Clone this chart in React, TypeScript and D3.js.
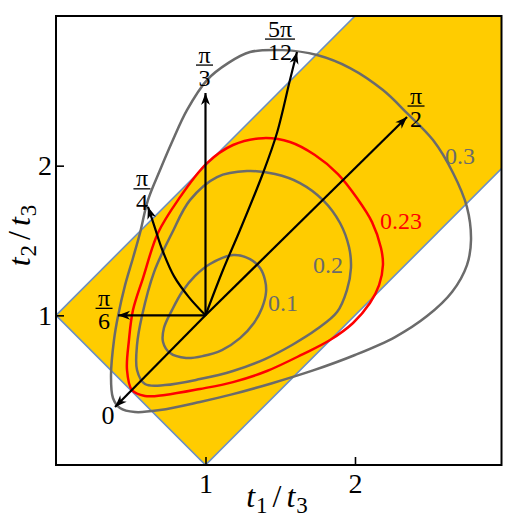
import React, { useEffect, useRef } from "react";
import * as d3 from "d3";

// chart data (t1/t3, t2/t3)
const xTicks = [1, 2];
const yTicks = [1, 2];

// triangle-inequality band |t1 - t2| < t3, t1 + t2 > t3
const bandArea: [number, number][] = [[0, 1], [1, 0], [3, 2], [3, 3], [2, 3]];
const bandEdges: [number, number][][] = [
    [[0, 1], [2, 3]],
    [[0, 1], [1, 0]],
    [[1, 0], [3, 2]],
];

const contour01: [number, number][] = [
    [1.184, 1.403], [1.298, 1.376], [1.365, 1.316], [1.398, 1.236], [1.405, 1.156],
    [1.378, 1.049], [1.324, 0.949], [1.231, 0.848], [1.11, 0.768], [0.983, 0.728],
    [0.87, 0.715], [0.763, 0.748], [0.716, 0.822], [0.722, 0.915], [0.776, 1.035],
    [0.843, 1.156], [0.93, 1.263], [1.03, 1.343],
];

const contour02: [number, number][] = [
    [0.896, 1.77], [1.077, 1.924], [1.278, 1.964], [1.465, 1.944], [1.632, 1.884],
    [1.786, 1.77], [1.9, 1.617], [1.96, 1.456], [1.973, 1.316], [1.946, 1.169],
    [1.88, 1.022], [1.746, 0.908], [1.579, 0.802], [1.398, 0.708], [1.184, 0.628],
    [0.963, 0.574], [0.729, 0.534], [0.595, 0.541], [0.542, 0.635], [0.542, 0.802],
    [0.575, 0.995], [0.656, 1.289], [0.776, 1.55],
];

const contour023: [number, number][] = [
    [0.816, 1.77], [1.01, 2.017], [1.184, 2.138], [1.385, 2.184], [1.565, 2.158],
    [1.732, 2.071], [1.886, 1.944], [2.013, 1.784], [2.114, 1.623], [2.174, 1.45],
    [2.187, 1.336], [2.161, 1.202], [2.1, 1.082], [1.987, 0.949], [1.833, 0.835],
    [1.652, 0.741], [1.411, 0.628], [1.184, 0.554], [0.963, 0.508], [0.729, 0.468],
    [0.595, 0.461], [0.508, 0.501], [0.475, 0.635], [0.488, 0.835], [0.515, 1.035],
    [0.582, 1.249], [0.682, 1.55],
];

const contour03: [number, number][] = [
    [1.151, 2.685], [1.298, 2.759], [1.518, 2.772], [1.746, 2.739], [1.967, 2.652],
    [2.187, 2.505], [2.348, 2.351], [2.522, 2.171], [2.656, 1.951], [2.749, 1.723],
    [2.776, 1.503], [2.749, 1.336], [2.649, 1.156], [2.482, 0.995], [2.268, 0.855],
    [2.0, 0.735], [1.72, 0.632], [1.44, 0.545], [1.17, 0.47], [0.963, 0.421],
    [0.696, 0.367], [0.528, 0.354], [0.428, 0.381], [0.381, 0.448], [0.368, 0.601],
    [0.388, 0.835], [0.415, 0.995], [0.462, 1.202], [0.515, 1.383], [0.562, 1.55],
    [0.615, 1.77], [0.696, 1.971], [0.776, 2.158], [0.876, 2.371], [1.01, 2.572],
];

const contourLevels = ["0.1", "0.2", "0.23", "0.3"];
const contourPoints = [contour01, contour02, contour023, contour03];
const contourLabelAt: [number, number][] = [[1.518, 1.082], [1.819, 1.336], [2.308, 1.63], [2.702, 2.064]];

// direction paths from the centre (1, 1), one per angle
const arrow0: [number, number][] = [[1, 1], [0.395, 0.387]];
const arrowPi6: [number, number][] = [[1, 1], [0.415, 1.0]];
const arrowPi4: [number, number][] = [[1, 1], [0.89, 1.12], [0.79, 1.26], [0.71, 1.44], [0.66, 1.59], [0.615, 1.725]];
const arrowPi3: [number, number][] = [[1, 1], [1, 2.485]];
const arrow5Pi12: [number, number][] = [[1, 1], [1.117, 1.303], [1.231, 1.57], [1.385, 1.951], [1.478, 2.218], [1.565, 2.572], [1.612, 2.759]];
const arrowPi2: [number, number][] = [[1, 1], [2.348, 2.325]];

const arrowPaths = [arrow0, arrowPi6, arrowPi4, arrowPi3, arrow5Pi12, arrowPi2];
// label: [numerator, denominator] ; "" numerator means plain label
const arrowLabels: [string, string][] = [["", "0"], ["π", "6"], ["π", "4"], ["π", "3"], ["5π", "12"], ["π", "2"]];

const W = 506;
const H = 519;
const FONT = "'Liberation Serif', 'DejaVu Serif', serif";
const GRAY = "#6b6b6b";

// pixel offsets of each arrow label from its arrow tip
const labelOffsets: [number, number][] = [[-7, 8], [-14, -7], [-6, -18], [-1, -28], [-17, -13], [9, -11]];

const Fraction = ({ x, y, num, den }: { x: number; y: number; num: string; den: string }) => {
    if (!num) {
        return (
            <text x={x} y={y} dy="0.35em" textAnchor="middle" fontSize={26} fontFamily={FONT}>
                {den}
            </text>
        );
    }
    const barW = den.length > 1 ? 30 : 17;
    return (
        <g fontFamily={FONT} fontSize={24} textAnchor="middle">
            <text x={x} y={y - 2.5}>{num}</text>
            <line x1={x - barW / 2} x2={x + barW / 2} y1={y} y2={y} stroke="black" strokeWidth={1.3} />
            <text x={x} y={y + 21}>{den}</text>
        </g>
    );
};

const AxisTitle = ({ sub }: { sub: string }) => (
    <>
        <tspan fontStyle="italic">t</tspan>
        <tspan fontSize={23} dy={6} dx={1}>{sub}</tspan>
        <tspan dy={-6} dx={5}>/</tspan>
        <tspan fontStyle="italic" dx={5}>t</tspan>
        <tspan fontSize={23} dy={6} dx={1}>3</tspan>
    </>
);

const App = () => {
    const axisRef = useRef<SVGGElement>(null);

    const x = d3.scaleLinear().domain([0, 2.98]).range([56, 501.5]);
    const y = d3.scaleLinear().domain([0, 3]).range([465, 16]);

    const lineGen = d3.line<[number, number]>().x((d) => x(d[0])).y((d) => y(d[1]));
    const closedGen = d3
        .line<[number, number]>()
        .x((d) => x(d[0]))
        .y((d) => y(d[1]))
        .curve(d3.curveCatmullRomClosed.alpha(0.5));
    const curveGen = d3
        .line<[number, number]>()
        .x((d) => x(d[0]))
        .y((d) => y(d[1]))
        .curve(d3.curveCatmullRom.alpha(0.5));

    useEffect(() => {
        const g = d3.select(axisRef.current);
        g.selectAll("*").remove();

        const bottom = g
            .append("g")
            .attr("transform", `translate(0,${y(0)})`)
            .call(d3.axisBottom(x).tickValues(xTicks).tickFormat(d3.format("d")).tickSizeInner(-8).tickSizeOuter(0).tickPadding(8));
        const left = g
            .append("g")
            .attr("transform", `translate(${x(0)},0)`)
            .call(d3.axisLeft(y).tickValues(yTicks).tickFormat(d3.format("d")).tickSizeInner(-8).tickSizeOuter(0).tickPadding(4));

        [bottom, left].forEach((a) => {
            a.select(".domain").remove();
            a.selectAll("line").attr("stroke", "black").attr("stroke-width", 1.6);
            a.selectAll("text").attr("font-size", 28).attr("font-family", FONT).attr("fill", "black");
        });
    }, []);

    const [x0, x1] = x.range();
    const [y0, y1] = y.range();

    return (
        <svg width={W} height={H} style={{ position: "absolute", left: 0, top: 0, background: "white" }}>
            <defs>
                <clipPath id="plot">
                    <rect x={x0} y={y1} width={x1 - x0} height={y0 - y1} />
                </clipPath>
                <marker id="head" viewBox="-14 -6 16 12" markerWidth={16} markerHeight={12} refX={0} refY={0} orient="auto" markerUnits="userSpaceOnUse">
                    <path d="M0,0 L-12,-4.5 L-8.5,0 L-12,4.5 Z" fill="black" />
                </marker>
            </defs>

            <g clipPath="url(#plot)">
                <path d={lineGen(bandArea) + "Z"} fill="#ffcc00" stroke="none" />
                {bandEdges.map((e, i) => (
                    <path key={i} d={lineGen(e) || ""} stroke="#6a8fc4" strokeWidth={1.6} fill="none" />
                ))}

                {contourPoints.map((pts, i) => (
                    <path
                        key={i}
                        d={closedGen(pts) || ""}
                        fill="none"
                        stroke={contourLevels[i] === "0.23" ? "#ff0000" : GRAY}
                        strokeWidth={2.5}
                    />
                ))}

                {arrowPaths.map((pts, i) => (
                    <path
                        key={i}
                        d={(pts.length > 2 ? curveGen(pts) : lineGen(pts)) || ""}
                        fill="none"
                        stroke="black"
                        strokeWidth={2.2}
                        markerEnd="url(#head)"
                    />
                ))}
            </g>

            {contourLevels.map((lv, i) => (
                <text
                    key={lv}
                    x={x(contourLabelAt[i][0])}
                    y={y(contourLabelAt[i][1])}
                    dy="0.35em"
                    textAnchor="middle"
                    fontSize={24}
                    fontFamily={FONT}
                    fill={lv === "0.23" ? "#ff0000" : GRAY}
                >
                    {lv}
                </text>
            ))}

            {arrowPaths.map((pts, i) => {
                const tip = pts[pts.length - 1];
                return (
                    <Fraction
                        key={i}
                        x={x(tip[0]) + labelOffsets[i][0]}
                        y={y(tip[1]) + labelOffsets[i][1]}
                        num={arrowLabels[i][0]}
                        den={arrowLabels[i][1]}
                    />
                );
            })}

            <rect x={x0} y={y1} width={x1 - x0} height={y0 - y1} fill="none" stroke="black" strokeWidth={2} />
            <g ref={axisRef} />

            <text x={277} y={507} textAnchor="middle" fontSize={32} fontFamily={FONT}>
                <AxisTitle sub="1" />
            </text>
            <text transform={`translate(30,${(y0 + y1) / 2 - 5}) rotate(-90)`} textAnchor="middle" fontSize={32} fontFamily={FONT}>
                <AxisTitle sub="2" />
            </text>
        </svg>
    );
};

export default App;
